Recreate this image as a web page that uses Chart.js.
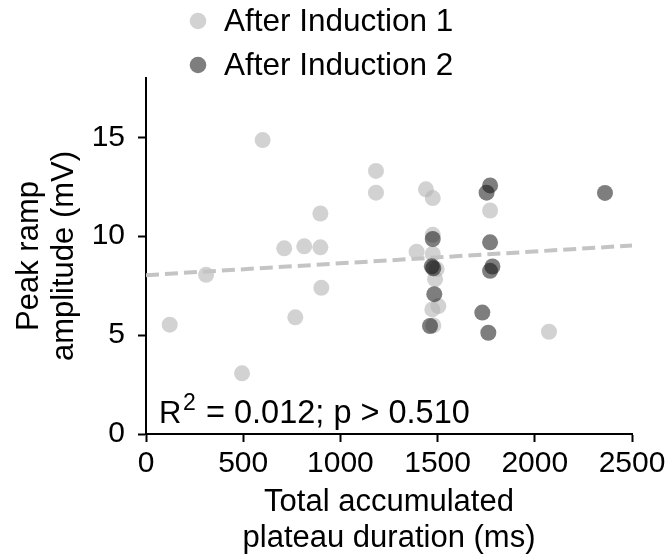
<!DOCTYPE html>
<html>
<head>
<meta charset="utf-8">
<script src="https://cdn.jsdelivr.net/npm/chart.js@4.4.1/dist/chart.umd.min.js"></script>
<style>
  body { margin: 0; background: #fff; }
  canvas { display: block; }
</style>
</head>
<body>
<canvas id="myChart" width="670" height="558"></canvas>
<script>
// Data
const inductionOneX = [122, 309, 494, 600, 711, 768, 814, 897, 897, 902, 1183, 1183, 1392, 1440, 1475, 1475, 1475, 1495, 1487, 1504, 1473, 1478, 1770, 2073];
const inductionOneY = [5.53, 8.05, 3.07, 14.86, 9.39, 5.90, 9.49, 11.15, 9.44, 7.39, 13.3, 12.2, 9.22, 12.37, 11.93, 10.07, 9.10, 8.34, 7.83, 6.47, 6.30, 5.49, 11.30, 5.17];

const inductionTwoX = [1770, 1752, 2361, 1475, 1770, 1470, 1478, 1782, 1770, 1483, 1730, 1461, 1761];
const inductionTwoY = [12.57, 12.2, 12.19, 9.86, 9.69, 8.48, 8.38, 8.47, 8.25, 7.07, 6.14, 5.46, 5.12];

// regression line end points
const fitX = [0, 2500];
const fitY = [8.03, 9.53];

const xTicks = [0, 500, 1000, 1500, 2000, 2500];
const yTicks = [0, 5, 10, 15];

const seriesLabels = ["After Induction 1", "After Induction 2"];
const statsLabel = "= 0.012; p > 0.510";

const toPoints = (xs, ys) => xs.map((x, i) => ({ x: x, y: ys[i] }));

const lightColor = "rgba(180,180,180,0.6)";
const darkColor = "rgba(20,20,20,0.55)";
const fontFamily = "'Liberation Sans', Arial, sans-serif";

// Legend drawn above the axes, stacked
const stackedLegend = {
    id: "stackedLegend",
    afterDraw(chart) {
        const ctx = chart.ctx;
        const sets = chart.data.datasets.filter(d => d.type === "scatter");
        ctx.save();
        sets.forEach(function (ds, i) {
            const y = 21 + i * 44;
            ctx.beginPath();
            ctx.arc(198, y, 8.3, 0, Math.PI * 2);
            ctx.fillStyle = ds.backgroundColor;
            ctx.fill();
            ctx.fillStyle = "#000";
            ctx.font = "31.5px " + fontFamily;
            ctx.textBaseline = "middle";
            ctx.textAlign = "left";
            ctx.fillText(ds.label, 224, y + 1);
        });
        ctx.restore();
    }
};

// R^2 annotation
const statsText = {
    id: "statsText",
    afterDraw(chart) {
        const ctx = chart.ctx;
        ctx.save();
        ctx.fillStyle = "#000";
        ctx.textBaseline = "alphabetic";
        ctx.textAlign = "left";
        ctx.font = "31px " + fontFamily;
        ctx.fillText("R", 159, 423);
        ctx.font = "23px " + fontFamily;
        ctx.fillText("2", 183, 410);
        ctx.font = "32.5px " + fontFamily;
        ctx.fillText(statsLabel, 206, 423);
        ctx.restore();
    }
};

const ctx = document.getElementById("myChart").getContext("2d");

new Chart(ctx, {
    type: "scatter",
    data: {
        datasets: [
            {
                type: "scatter",
                label: seriesLabels[0],
                data: toPoints(inductionOneX, inductionOneY),
                backgroundColor: lightColor,
                borderWidth: 0,
                pointRadius: 8,
                pointHoverRadius: 8,
                order: 3
            },
            {
                type: "line",
                label: "fit",
                data: toPoints(fitX, fitY),
                borderColor: "#c4c4c4",
                borderWidth: 4,
                borderDash: [13, 6],
                pointRadius: 0,
                fill: false,
                order: 2
            },
            {
                type: "scatter",
                label: seriesLabels[1],
                data: toPoints(inductionTwoX, inductionTwoY),
                backgroundColor: darkColor,
                borderWidth: 0,
                pointRadius: 8,
                pointHoverRadius: 8,
                order: 1
            }
        ]
    },
    options: {
        responsive: false,
        animation: false,
        layout: { padding: { top: 78, right: 38, left: 0, bottom: 0 } },
        plugins: {
            legend: { display: false },
            tooltip: { enabled: false }
        },
        scales: {
            x: {
                type: "linear",
                min: 0,
                max: 2500,
                afterBuildTicks: function (scale) {
                    scale.ticks = xTicks.map(v => ({ value: v }));
                },
                afterFit: function (scale) { scale.height = 124; },
                ticks: {
                    color: "#000",
                    padding: 4,
                    maxRotation: 0,
                    font: { size: 30, family: fontFamily },
                    callback: function (value) { return String(value); }
                },
                grid: {
                    display: true,
                    drawOnChartArea: false,
                    drawTicks: true,
                    tickLength: 8,
                    tickColor: "#000",
                    tickWidth: 2
                },
                border: { display: true, color: "#000", width: 2 },
                title: {
                    display: true,
                    text: ["Total accumulated", "plateau duration (ms)"],
                    color: "#000",
                    font: { size: 31, family: fontFamily, lineHeight: 1.15 },
                    padding: { top: 0, bottom: 2 }
                }
            },
            y: {
                type: "linear",
                min: 0,
                max: 18,
                afterBuildTicks: function (scale) {
                    scale.ticks = yTicks.map(v => ({ value: v }));
                },
                afterFit: function (scale) { scale.width = 146; },
                ticks: {
                    color: "#000",
                    padding: 13,
                    font: { size: 30, family: fontFamily },
                    callback: function (value) { return String(value); }
                },
                grid: {
                    display: true,
                    drawOnChartArea: false,
                    drawTicks: true,
                    tickLength: 8,
                    tickColor: "#000",
                    tickWidth: 2
                },
                border: { display: true, color: "#000", width: 2 },
                title: {
                    display: true,
                    text: ["Peak ramp", "amplitude (mV)"],
                    color: "#000",
                    font: { size: 31, family: fontFamily, lineHeight: 1.12 },
                    padding: { top: 12, bottom: 0 }
                }
            }
        }
    },
    plugins: [stackedLegend, statsText]
});
</script>
</body>
</html>
